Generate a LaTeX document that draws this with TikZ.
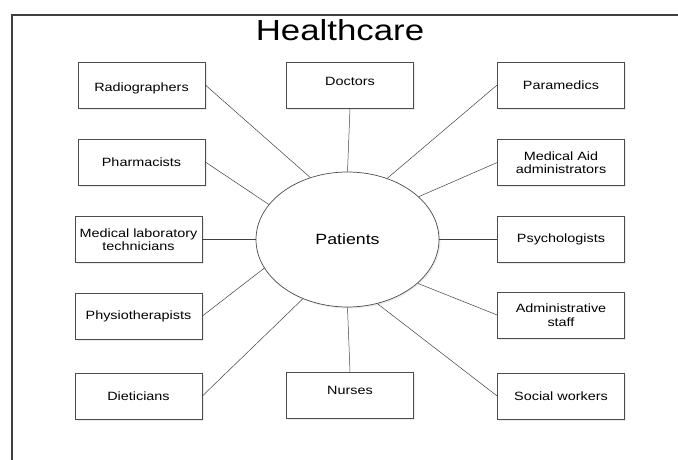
\documentclass[tikz,border=0pt]{standalone}
\usepackage{fontspec}
\setmainfont[FakeStretch=1.2]{Liberation Sans}
\usetikzlibrary{shapes.geometric,shadows}

\begin{document}
\begin{tikzpicture}[x=1pt,y=-1pt,
  role/.style={draw=black!70,line width=0.7pt,fill=white,
    minimum width=127pt,minimum height=46pt,inner sep=1pt,align=center,
    font=\fontsize{12}{13.5}\selectfont,
    drop shadow={shadow xshift=1.5pt,shadow yshift=-1.5pt,opacity=0.15}},
  link/.style={draw=black!75,line width=0.5pt}]
  \useasboundingbox (0,0) rectangle (678,459);
  \draw[black!75,line width=2.5pt] (12,470) -- (12,15) -- (690,15);
  \node[font=\fontsize{29}{32}\selectfont,anchor=base] (title) at (340,40) {Healthcare};

  \node[ellipse,draw=black!70,line width=0.7pt,fill=white,
    minimum width=183pt,minimum height=135pt,inner sep=0pt,
    font=\fontsize{14.8}{16}\selectfont,
    drop shadow={shadow xshift=1.5pt,shadow yshift=-1.5pt,opacity=0.15}]
    (pat) at (347.5,239.5) {Patients};

  % left column
  \node[role,text height=16.3pt] (rad) at (141.5,85) {Radiographers};
  \node[role] (pha) at (141.5,162) {Pharmacists};
  \node[role] (lab) at (138.5,239.5) {Medical laboratory\\technicians};
  \node[role] (phy) at (138.5,316) {Physiotherapists};
  \node[role] (die) at (138.5,396) {Dieticians};
  % middle
  \node[role,text depth=8pt] (doc) at (350,85) {Doctors};
  \node[role,text depth=10pt] (nur) at (350,395) {Nurses};
  % right column
  \node[role] (par) at (561,85) {Paramedics};
  \node[role] (aid) at (561,162.5) {Medical Aid\\administrators};
  \node[role] (psy) at (561,239.5) {Psychologists};
  \node[role] (adm) at (561,315) {Administrative\\staff};
  \node[role] (soc) at (561,396) {Social workers};

  \foreach \b/\s/\e in {rad/east/121, pha/east/156, lab/east/180, phy/east/-161,
      die/east/-127, doc/south/90, nur/north/-90, par/west/57, aid/west/31,
      psy/west/0, adm/west/-32, soc/west/-65}
    \draw[link] (\b.\s) -- (pat.\e);
\end{tikzpicture}
\end{document}
